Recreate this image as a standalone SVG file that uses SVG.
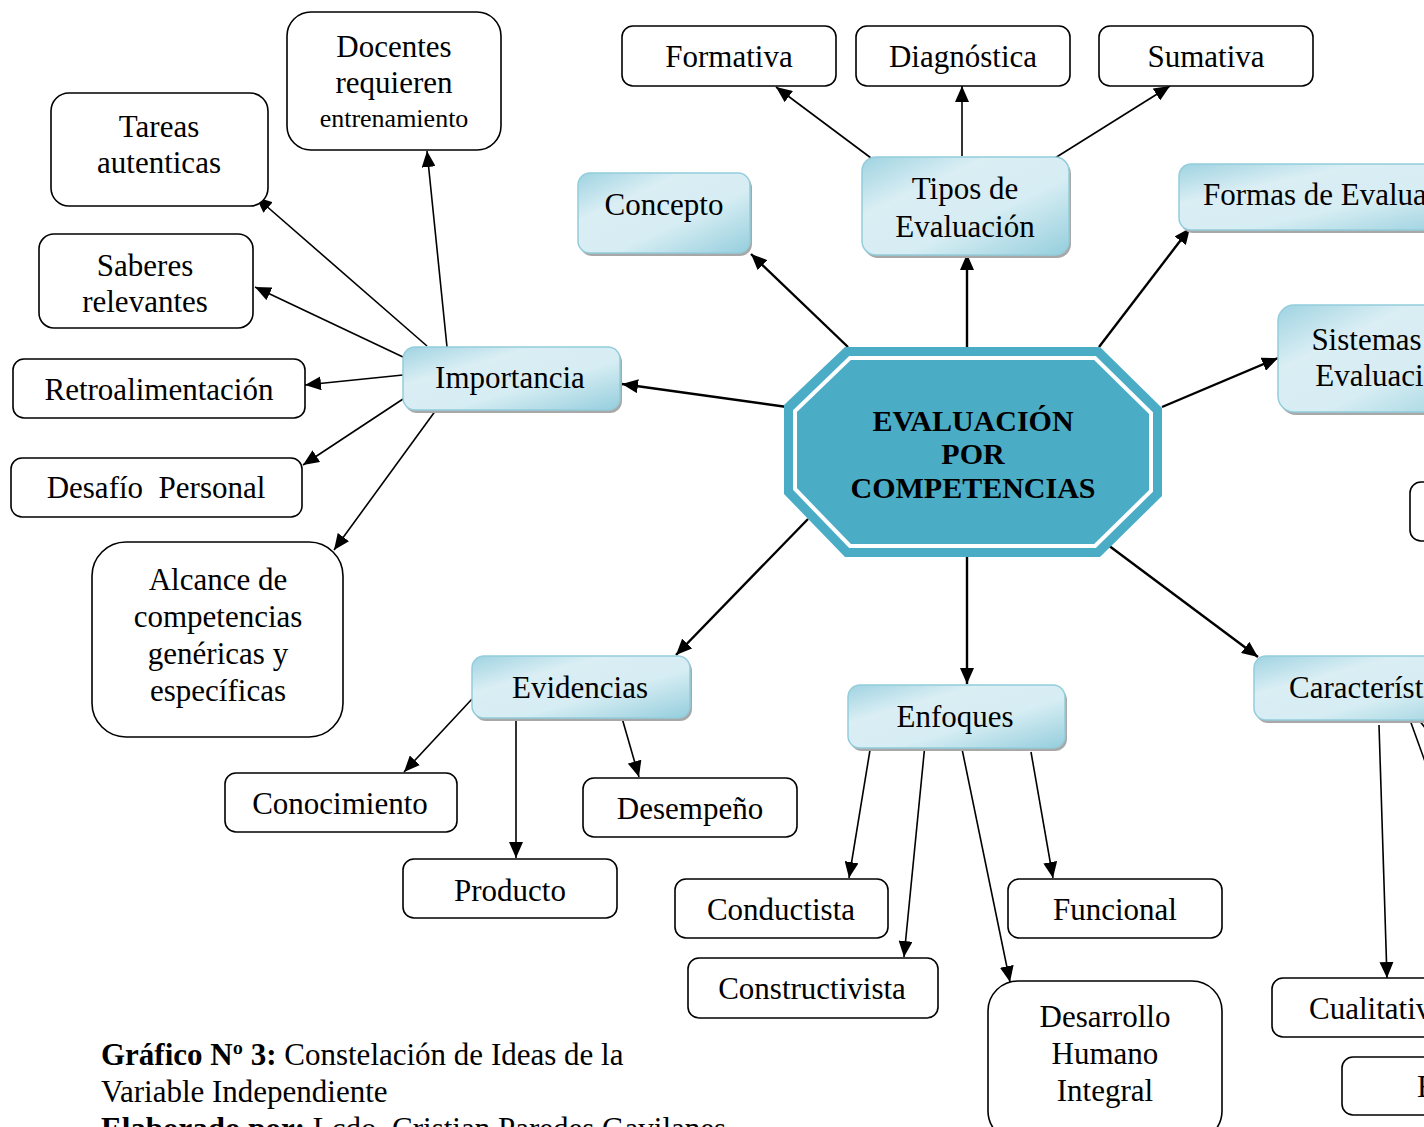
<svg xmlns="http://www.w3.org/2000/svg" width="1424" height="1127" viewBox="0 0 1424 1127">
<style>
text{font-family:"Liberation Serif","Times New Roman",serif;font-size:31px;fill:#000;text-anchor:middle}
.st{text-anchor:start}
.w{fill:#fff;stroke:#000;stroke-width:1.6}
.g{fill:url(#gb);stroke:#93CDDC;stroke-width:1.5}
.sh{fill:#a8a8a8}
.c{stroke:#000;stroke-width:1.6;fill:none;marker-end:url(#ah)}
.c2{stroke:#000;stroke-width:2.4;fill:none;marker-end:url(#ah)}
.b{font-weight:bold}
.ctr{font-weight:bold;font-size:30px}
.sm{font-size:26px}
</style>
<defs>
<linearGradient id="gb" x1="0" y1="0" x2="1" y2="1">
<stop offset="0" stop-color="#9FD3E1"/>
<stop offset="0.3" stop-color="#DAEEF4"/>
<stop offset="0.6" stop-color="#D6EDF3"/>
<stop offset="1" stop-color="#95CEDD"/>
</linearGradient>
<marker id="ah" markerUnits="userSpaceOnUse" markerWidth="16" markerHeight="14" refX="16" refY="7" orient="auto">
<path d="M0,0 L16,7 L0,14 z" fill="#000"/>
</marker>
</defs>

<g id="connectors">
<line class="c2" x1="848" y1="347" x2="751" y2="254"/>
<line class="c2" x1="967" y1="347" x2="967" y2="254"/>
<line class="c2" x1="1099" y1="347" x2="1190" y2="228"/>
<line class="c2" x1="1162" y1="407" x2="1278" y2="358"/>
<line class="c2" x1="787" y1="407" x2="622" y2="384"/>
<line class="c2" x1="808" y1="519" x2="676" y2="655"/>
<line class="c2" x1="967" y1="553" x2="967" y2="684"/>
<line class="c2" x1="1108" y1="545" x2="1258" y2="657"/>
<line class="c" x1="871" y1="158" x2="776" y2="87"/>
<line class="c" x1="962" y1="156" x2="962" y2="86"/>
<line class="c" x1="1055" y1="158" x2="1170" y2="86"/>
<line class="c" x1="447" y1="347" x2="427" y2="151"/>
<line class="c" x1="427" y1="346" x2="256" y2="197"/>
<line class="c" x1="403" y1="357" x2="255" y2="287"/>
<line class="c" x1="403" y1="375" x2="305" y2="385"/>
<line class="c" x1="403" y1="399" x2="303" y2="465"/>
<line class="c" x1="436" y1="410" x2="334" y2="550"/>
<line class="c" x1="472" y1="699" x2="404" y2="772"/>
<line class="c" x1="516" y1="720" x2="516" y2="858"/>
<line class="c" x1="622" y1="718" x2="639" y2="777"/>
<line class="c" x1="870" y1="750" x2="849" y2="878"/>
<line class="c" x1="925" y1="744" x2="904" y2="957"/>
<line class="c" x1="961" y1="744" x2="1010" y2="982"/>
<line class="c" x1="1031" y1="752" x2="1053" y2="878"/>
<line class="c" x1="1379" y1="725" x2="1387" y2="978"/>
<line stroke="#000" stroke-width="1.6" x1="1410" y1="720" x2="1436" y2="792"/>
<line stroke="#000" stroke-width="1.6" x1="1418" y1="719" x2="1440" y2="746"/>
</g>

<g id="center">
<polygon points="845,347 1100,347 1162,408 1162,496 1100,557 845,557 784,494 784,405" fill="#4BACC6"/>
<polygon points="850,358 1095,358 1151,413 1151,491 1095,546 850,546 795,489 795,411" fill="none" stroke="#fff" stroke-width="4"/>
<text class="ctr" x="973" y="431">EVALUACIÓN</text>
<text class="ctr" x="973" y="464">POR</text>
<text class="ctr" x="973" y="498">COMPETENCIAS</text>
</g>

<g id="concepto">
<rect class="sh" x="580" y="176" width="172" height="80" rx="12"/>
<rect class="g" x="578" y="173" width="172" height="80" rx="12"/>
<text x="664" y="215">Concepto</text>
</g>
<g id="tipos">
<rect class="sh" x="864" y="160" width="207" height="98" rx="14"/>
<rect class="g" x="862" y="157" width="207" height="98" rx="14"/>
<text x="965" y="199">Tipos de</text>
<text x="965" y="237">Evaluación</text>
</g>
<g id="formas">
<rect class="sh" x="1181" y="167" width="300" height="66" rx="12"/>
<rect class="g" x="1179" y="164" width="300" height="66" rx="12"/>
<text class="st" x="1203" y="205">Formas de Evaluación</text>
</g>
<g id="sistemas">
<rect class="sh" x="1280" y="308" width="220" height="107" rx="16"/>
<rect class="g" x="1278" y="305" width="220" height="107" rx="16"/>
<text x="1385" y="350">Sistemas de</text>
<text x="1385" y="386">Evaluación</text>
</g>
<g id="importancia">
<rect class="sh" x="405" y="350" width="217" height="63" rx="12"/>
<rect class="g" x="403" y="347" width="217" height="63" rx="12"/>
<text x="510" y="388">Importancia</text>
</g>
<g id="evidencias">
<rect class="sh" x="474" y="659" width="218" height="62" rx="12"/>
<rect class="g" x="472" y="656" width="218" height="62" rx="12"/>
<text x="580" y="698">Evidencias</text>
</g>
<g id="enfoques">
<rect class="sh" x="850" y="688" width="217" height="63" rx="12"/>
<rect class="g" x="848" y="685" width="217" height="63" rx="12"/>
<text x="955" y="727">Enfoques</text>
</g>
<g id="caracteristicas">
<rect class="sh" x="1256" y="659" width="240" height="64" rx="12"/>
<rect class="g" x="1254" y="656" width="240" height="64" rx="12"/>
<text class="st" x="1289" y="698">Características</text>
</g>

<g id="formativa"><rect class="w" x="622" y="26" width="214" height="60" rx="11"/><text x="729" y="67">Formativa</text></g>
<g id="diagnostica"><rect class="w" x="856" y="26" width="214" height="60" rx="11"/><text x="963" y="67">Diagnóstica</text></g>
<g id="sumativa"><rect class="w" x="1099" y="26" width="214" height="60" rx="11"/><text x="1206" y="67">Sumativa</text></g>
<g id="docentes"><rect class="w" x="287" y="12" width="214" height="138" rx="24"/>
<text x="394" y="57">Docentes</text><text x="394" y="93">requieren</text><text class="sm" x="394" y="127">entrenamiento</text></g>
<g id="tareas"><rect class="w" x="51" y="93" width="217" height="113" rx="18"/>
<text x="159" y="137">Tareas</text><text x="159" y="173">autenticas</text></g>
<g id="saberes"><rect class="w" x="39" y="234" width="214" height="94" rx="15"/>
<text x="145" y="276">Saberes</text><text x="145" y="312">relevantes</text></g>
<g id="retro"><rect class="w" x="13" y="359" width="292" height="59" rx="11"/><text x="159" y="400">Retroalimentación</text></g>
<g id="desafio"><rect class="w" x="11" y="458" width="291" height="59" rx="11"/><text x="156" y="498" style="white-space:pre">Desafío  Personal</text></g>
<g id="alcance"><rect class="w" x="92" y="542" width="251" height="195" rx="34"/>
<text x="218" y="590">Alcance de</text><text x="218" y="627">competencias</text><text x="218" y="664">genéricas y</text><text x="218" y="701">específicas</text></g>
<g id="conocimiento"><rect class="w" x="225" y="773" width="232" height="59" rx="11"/><text x="340" y="814">Conocimiento</text></g>
<g id="producto"><rect class="w" x="403" y="859" width="214" height="59" rx="11"/><text x="510" y="901">Producto</text></g>
<g id="desempeno"><rect class="w" x="583" y="778" width="214" height="59" rx="11"/><text x="690" y="819">Desempeño</text></g>
<g id="conductista"><rect class="w" x="675" y="879" width="213" height="59" rx="11"/><text x="781" y="920">Conductista</text></g>
<g id="constructivista"><rect class="w" x="688" y="958" width="250" height="60" rx="11"/><text x="812" y="999">Constructivista</text></g>
<g id="funcional"><rect class="w" x="1008" y="879" width="214" height="59" rx="11"/><text x="1115" y="920">Funcional</text></g>
<g id="desarrollo"><rect class="w" x="988" y="981" width="234" height="160" rx="30"/>
<text x="1105" y="1027">Desarrollo</text><text x="1105" y="1064">Humano</text><text x="1105" y="1101">Integral</text></g>
<g id="cualitativa"><rect class="w" x="1272" y="978" width="214" height="59" rx="11"/><text class="st" x="1309" y="1019">Cualitativa</text></g>
<g id="e-box"><rect class="w" x="1342" y="1057" width="214" height="58" rx="11"/><text class="st" x="1417" y="1097">E</text></g>
<g id="right-box"><rect class="w" x="1410" y="482" width="214" height="59" rx="11"/></g>

<g id="caption">
<text class="st" x="101" y="1065"><tspan class="b">Gráfico Nº 3:</tspan> Constelación de Ideas de la</text>
<text class="st" x="101" y="1102">Variable Independiente</text>
<text class="st" x="101" y="1139"><tspan class="b">Elaborado por:</tspan> Lcdo. Cristian Paredes Gavilanes</text>
</g>
</svg>
